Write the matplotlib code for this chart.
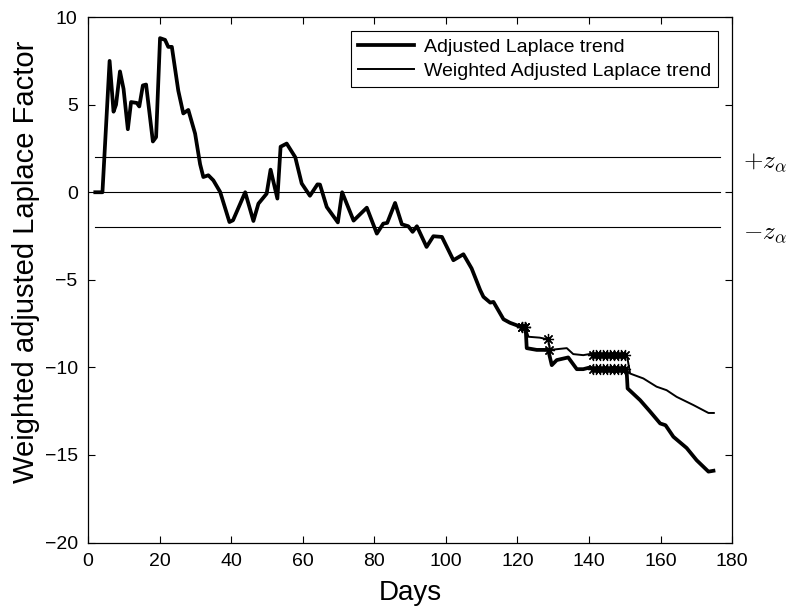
import numpy as np
import matplotlib
matplotlib.use("Agg")
import matplotlib.pyplot as plt

plt.rcParams['font.family'] = ['Liberation Sans', 'DejaVu Sans']
plt.rcParams['mathtext.fontset'] = 'cm'

# shared part of both trends (identical up to day ~122)
common_days = [2, 4, 6, 7.1, 7.8, 8.9, 9.9, 11.1, 12, 13.6, 14.3, 15.3, 16.2, 18.1, 19, 20.1,
               21.5, 22.4, 23.4, 25.2, 26.6, 28, 29.9, 31.3, 32.2, 33.6, 35, 36.9, 39.5, 40.5,
               43.9, 46.2, 47.6, 49.9, 51, 52.9, 53.8, 55.5, 57.9, 59.7, 62, 64.1, 64.8, 66.7,
               69.8, 71.0, 74.2, 77.9, 80.7, 82.5, 83.6, 85.8, 87.7, 89.5, 90.7, 91.9, 94.6,
               96.5, 98.9, 102.1, 104.9, 107.2, 109.6, 110.5, 112.4, 113.3, 116.1, 117.9,
               121.2, 122.3]
common_vals = [0, 0, 7.5, 4.6, 5.0, 6.9, 5.9, 3.6, 5.15, 5.1, 4.9, 6.1, 6.15, 2.9, 3.15, 8.8,
               8.7, 8.3, 8.3, 5.8, 4.5, 4.7, 3.35, 1.6, 0.87, 0.97, 0.68, 0.02, -1.7, -1.6,
               0.0, -1.64, -0.65, -0.08, 1.29, -0.36, 2.6, 2.78, 2.0, 0.5, -0.2, 0.45, 0.44, -0.84,
               -1.72, 0.0, -1.62, -0.88, -2.36, -1.79, -1.75, -0.61, -1.83, -1.94, -2.26, -1.94, -3.12,
               -2.51, -2.55, -3.88, -3.54, -4.35, -5.59, -5.97, -6.3, -6.26, -7.25, -7.45,
               -7.7, -7.75]

# Adjusted Laplace trend after the split
adj_days = [122.6, 125.4, 128.6, 129.6, 131, 134.2, 136.6, 138.4, 140.3, 141, 150.5, 150.8,
            154.3, 157, 159.9, 161.4, 163.6, 167.3, 170.1, 173.4, 174.8]
adj_vals = [-8.9, -9.0, -9.0, -9.87, -9.58, -9.43, -10.1, -10.1, -10.0, -10.1, -10.1, -11.2,
            -11.87, -12.5, -13.2, -13.3, -13.96, -14.6, -15.3, -15.95, -15.9]

# Weighted adjusted Laplace trend after the split
w_days = [123.1, 126.2, 128.6, 129.1, 133.8, 135.6, 138.4, 141.2, 150.6, 151.5, 155.2, 158.9,
          161.7, 164.5, 169.2, 173.4, 174.9]
w_vals = [-8.25, -8.3, -8.4, -9.0, -8.9, -9.24, -9.3, -9.2, -9.3, -10.35, -10.63, -11.1,
          -11.3, -11.68, -12.15, -12.6, -12.6]

# star markers
star_adj_days = [121.2, 122.0, 128.8] + list(range(141, 151))
star_adj_vals = [-7.7, -7.72, -9.0] + [-10.1] * 10
star_w_days = [121.2, 122.0, 128.6] + list(range(141, 151))
star_w_vals = [-7.7, -7.72, -8.4] + [-9.3] * 10

z_alpha = 2.0
zline_days = [2, 176.5]

fig = plt.figure(figsize=(7.94, 6.11), dpi=100)
ax = fig.add_axes([0.111, 0.112, 0.811, 0.860])

x_adj = common_days + adj_days
y_adj = common_vals + adj_vals
x_w = common_days + w_days
y_w = common_vals + w_vals

for lvl in (z_alpha, 0, -z_alpha):
    ax.plot(zline_days, [lvl, lvl], color='black', lw=0.8)

ax.plot(x_adj, y_adj, color='black', lw=2.7, label='Adjusted Laplace trend')
ax.plot(x_w, y_w, color='black', lw=1.4, label='Weighted Adjusted Laplace trend')
ax.plot(star_adj_days, star_adj_vals, ls='none', marker=(8, 2, 0), ms=8, color='black', mew=0.9)
ax.plot(star_w_days, star_w_vals, ls='none', marker=(8, 2, 0), ms=8, color='black', mew=0.9)

ax.set_xlim(0, 180)
ax.set_ylim(-20, 10)
ax.set_xticks(np.arange(0, 181, 20))
ax.set_yticks(np.arange(-20, 11, 5))
ax.tick_params(direction='in', top=True, right=True, length=5, labelsize=14, pad=7.5)
for s in ax.spines.values():
    s.set_linewidth(0.9)

ax.set_xlabel('Days', fontsize=20, labelpad=7)
ax.set_ylabel('Weighted adjusted Laplace Factor', fontsize=21)
ax.yaxis.set_label_coords(-0.075, 0.535)

ax.text(183, z_alpha - 0.25, r'$+z_{\alpha}$', fontsize=18, ha='left', va='center', clip_on=False)
ax.text(183, -z_alpha - 0.35, r'$-z_{\alpha}$', fontsize=18, ha='left', va='center', clip_on=False)

leg = ax.legend(loc='upper right', fontsize=14, frameon=True, fancybox=False,
                edgecolor='black', framealpha=1, borderaxespad=0.72, handlelength=2.85,
                handletextpad=0.53, labelspacing=0.35, borderpad=0.35)
leg.get_frame().set_linewidth(0.8)

fig.savefig('out.png', dpi=100)
